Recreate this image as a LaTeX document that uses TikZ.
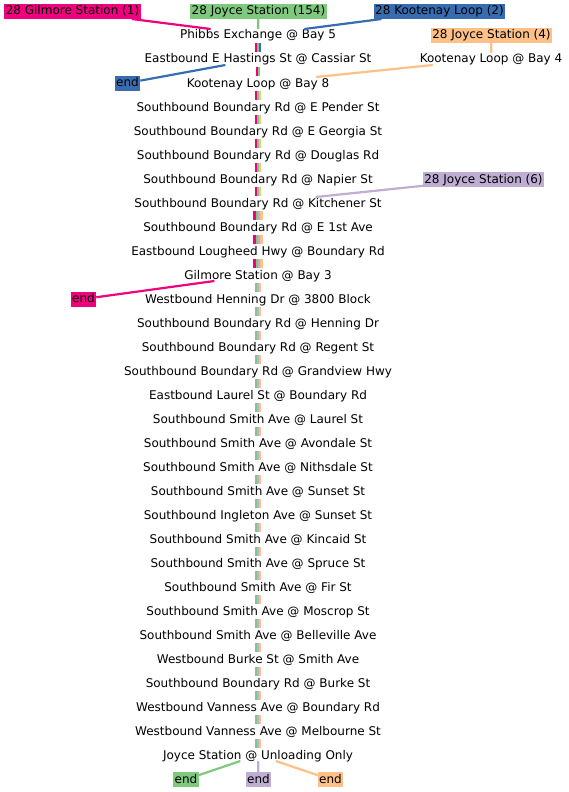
\documentclass[tikz,border=0pt]{standalone}
\usepackage{fontspec}
\setmainfont{DejaVu Sans}
\usetikzlibrary{calc}
\definecolor{cpink}{HTML}{F0027F}
\definecolor{cgreen}{HTML}{7FC97F}
\definecolor{cblue}{HTML}{386CB0}
\definecolor{corange}{HTML}{FDC086}
\definecolor{cpurple}{HTML}{BEAED4}
\begin{document}
\begin{tikzpicture}[x=1pt,y=-1pt,
  stop/.style={inner sep=0pt, outer sep=0pt, font=\fontsize{12}{14}\selectfont, text height=10pt, text depth=2pt},
  lbl/.style={inner sep=1.5pt, outer sep=0pt, font=\fontsize{12}{14}\selectfont, text height=9.5pt, text depth=2.5pt},
  conn/.style={line width=2.2pt}]
\useasboundingbox (0,0) rectangle (568,792);
% stops
\foreach \t [count=\i from 0] in {Phibbs Exchange @ Bay 5, Eastbound E Hastings St @ Cassiar St, Kootenay Loop @ Bay 8, Southbound Boundary Rd @ E Pender St, Southbound Boundary Rd @ E Georgia St, Southbound Boundary Rd @ Douglas Rd, Southbound Boundary Rd @ Napier St, Southbound Boundary Rd @ Kitchener St, Southbound Boundary Rd @ E 1st Ave, Eastbound Lougheed Hwy @ Boundary Rd, Gilmore Station @ Bay 3, Westbound Henning Dr @ 3800 Block, Southbound Boundary Rd @ Henning Dr, Southbound Boundary Rd @ Regent St, Southbound Boundary Rd @ Grandview Hwy, Eastbound Laurel St @ Boundary Rd, Southbound Smith Ave @ Laurel St, Southbound Smith Ave @ Avondale St, Southbound Smith Ave @ Nithsdale St, Southbound Smith Ave @ Sunset St, Southbound Ingleton Ave @ Sunset St, Southbound Smith Ave @ Kincaid St, Southbound Smith Ave @ Spruce St, Southbound Smith Ave @ Fir St, Southbound Smith Ave @ Moscrop St, Southbound Smith Ave @ Belleville Ave, Westbound Burke St @ Smith Ave, Southbound Boundary Rd @ Burke St, Westbound Vanness Ave @ Boundary Rd, Westbound Vanness Ave @ Melbourne St, Joyce Station @ Unloading Only}
  {\node[stop] (s\i) at (258,{35+24*\i}) {\t};}
\node[stop] (k4) at (491,59) {Kootenay Loop @ Bay 4};
% stripes between stops
\newcommand\stripes[3]{% #1 stop index, #2 colours, #3 count
  \foreach \c [count=\k from 0] in {#2} {
    \fill[color=\c] ($(s#1.center)+({(\k-(#3-1)/2)*2.3-1.15},8)$) rectangle ($(s#1.center)+({(\k-(#3-1)/2)*2.3+1.15},17)$);
  }}
\stripes{0}{cpink,cgreen,cblue}{3}
\stripes{1}{cpink,cgreen}{2}
\foreach \i in {2,...,6} {\stripes{\i}{cpink,cgreen,corange}{3}}
\foreach \i in {7,8,9} {\stripes{\i}{cpink,cgreen,cpurple,corange}{4}}
\foreach \i in {10,...,29} {\stripes{\i}{cgreen,cpurple,corange}{3}}
% labels
\node[lbl, fill=cpink] (lgil) at (72.5,11.5) {28 Gilmore Station (1)};
\node[lbl, fill=cgreen] (ljoy) at (258.5,11.5) {28 Joyce Station (154)};
\node[lbl, fill=cblue] (lkoo) at (439.5,11.5) {28 Kootenay Loop (2)};
\node[lbl, fill=corange] (ljoy4) at (491.5,35.5) {28 Joyce Station (4)};
\node[lbl, fill=cpurple] (ljoy6) at (483.5,179.5) {28 Joyce Station (6)};
\node[lbl, fill=cblue] (eblue) at (127.5,83) {end};
\node[lbl, fill=cpink] (epink) at (83.5,299) {end};
\node[lbl, fill=cgreen] (egreen) at (186,779.5) {end};
\node[lbl, fill=cpurple] (epurple) at (258.5,779.5) {end};
\node[lbl, fill=corange] (eorange) at (330.5,779.5) {end};
% connectors
\draw[conn,cpink] (lgil) -- (s0);
\draw[conn,cgreen] (ljoy) -- (s0);
\draw[conn,cblue] (lkoo) -- (s0);
\draw[conn,cblue] (s1) -- (eblue);
\draw[conn,corange] (ljoy4) -- (k4);
\draw[conn,corange] (k4) -- (s2);
\draw[conn,cpurple] (ljoy6) -- (s7);
\draw[conn,cpink] (s10) -- (epink);
\draw[conn,cgreen] (s30) -- (egreen);
\draw[conn,cpurple] (s30) -- (epurple);
\draw[conn,corange] (s30) -- (eorange);
\end{tikzpicture}
\end{document}
